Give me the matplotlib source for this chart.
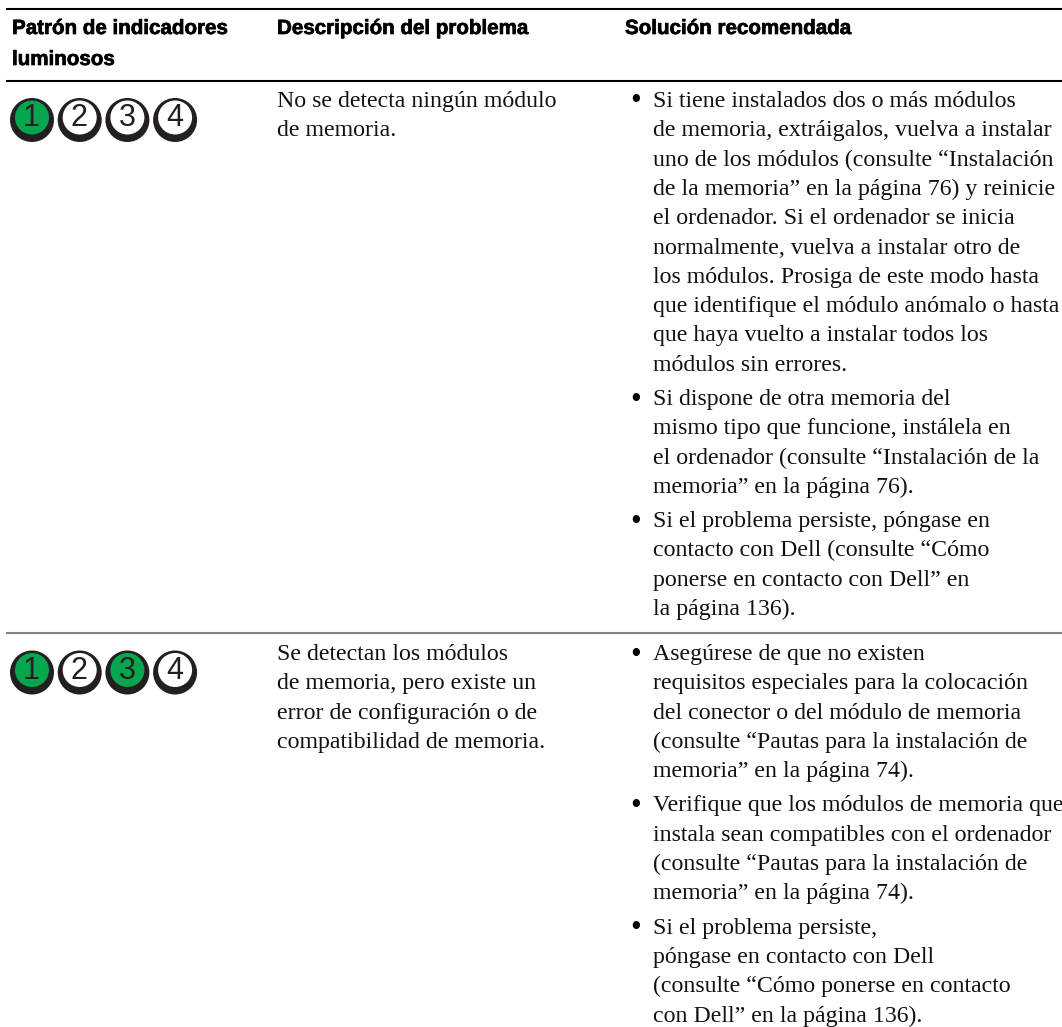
import matplotlib
matplotlib.use('Agg')
import matplotlib.pyplot as plt
import matplotlib.patheffects as pe
from matplotlib.patches import Circle

W, H = 1062, 1027

# table text, one list per column
headers = ['Patrón de indicadores\nluminosos', 'Descripción del problema', 'Solución recomendada']
descriptions = [
    ['No se detecta ningún módulo', 'de memoria.'],
    ['Se detectan los módulos', 'de memoria, pero existe un', 'error de configuración o de', 'compatibilidad de memoria.'],
]
solutions_1 = [
    ['Si tiene instalados dos o más módulos', 'de memoria, extráigalos, vuelva a instalar',
     'uno de los módulos (consulte “Instalación', 'de la memoria” en la página 76) y reinicie',
     'el ordenador. Si el ordenador se inicia', 'normalmente, vuelva a instalar otro de',
     'los módulos. Prosiga de este modo hasta', 'que identifique el módulo anómalo o hasta',
     'que haya vuelto a instalar todos los', 'módulos sin errores.'],
    ['Si dispone de otra memoria del', 'mismo tipo que funcione, instálela en',
     'el ordenador (consulte “Instalación de la', 'memoria” en la página 76).'],
    ['Si el problema persiste, póngase en', 'contacto con Dell (consulte “Cómo',
     'ponerse en contacto con Dell” en', 'la página 136).'],
]
solutions_2 = [
    ['Asegúrese de que no existen', 'requisitos especiales para la colocación',
     'del conector o del módulo de memoria', '(consulte “Pautas para la instalación de',
     'memoria” en la página 74).'],
    ['Verifique que los módulos de memoria que', 'instala sean compatibles con el ordenador',
     '(consulte “Pautas para la instalación de', 'memoria” en la página 74).'],
    ['Si el problema persiste,', 'póngase en contacto con Dell',
     '(consulte “Cómo ponerse en contacto', 'con Dell” en la página 136).'],
]
leds = [[1], [1, 3]]
led_labels = ['1', '2', '3', '4']

fig = plt.figure(figsize=(W / 100, H / 100), dpi=100)
ax = fig.add_axes([0, 0, 1, 1])
ax.set_xlim(0, W)
ax.set_ylim(H, 0)
ax.axis('off')

SERIF = 'Liberation Serif'
NARROW = ['Liberation Sans Narrow', 'Liberation Sans']
SANS = 'Liberation Sans'
FS = 17.2
HEAD_FS = 14.8
LINE = 29.3
DARK = '#231f20'


def rule(y, color):
    ax.plot([6, W], [y, y], color=color, lw=1.5, solid_capstyle='butt')


def header(x, y, s):
    t = ax.text(x, y, s, family=NARROW, weight='bold', fontsize=HEAD_FS, va='baseline', color='black')
    t.set_path_effects([pe.withStroke(linewidth=0.5, foreground='black')])


def led_row(cy, on):
    for i, lab in enumerate(led_labels):
        cx = 32 + i * 47.7
        lit = (i + 1) in on
        # dark disc with the inner face shifted up, thick ring at the bottom
        ax.add_patch(Circle((cx, cy), 22, fc=DARK, ec='none'))
        ax.add_patch(Circle((cx, cy - 2.5), 17, fc='#06a64f' if lit else 'white', ec='none'))
        ax.text(cx - 0.5, cy + 6.5, lab, family=SANS, fontsize=22, ha='center', va='baseline', color=DARK)


def bullets(groups, y0):
    y = y0
    for g in groups:
        ax.text(630.5, y + 2.5, '•', family=SERIF, fontsize=22, va='baseline', color='black')
        for ln in g:
            ax.text(653, y, ln, family=SERIF, fontsize=FS, va='baseline', color='#111111')
            y += LINE
        y += 5


rule(9, 'black')
rule(81, 'black')
rule(633, '#808080')

first, second = headers[0].split('\n')
header(12, 34, first)
header(12, 65, second)
header(277, 34, headers[1])
header(625, 34, headers[2])

led_row(120, leds[0])
led_row(672.5, leds[1])

for k, ln in enumerate(descriptions[0]):
    ax.text(277, 107 + k * LINE, ln, family=SERIF, fontsize=FS, va='baseline', color='#111111')
for k, ln in enumerate(descriptions[1]):
    ax.text(277, 660 + k * LINE, ln, family=SERIF, fontsize=FS, va='baseline', color='#111111')

bullets(solutions_1, 107)
bullets(solutions_2, 660)

fig.savefig('out.png', dpi=100)
